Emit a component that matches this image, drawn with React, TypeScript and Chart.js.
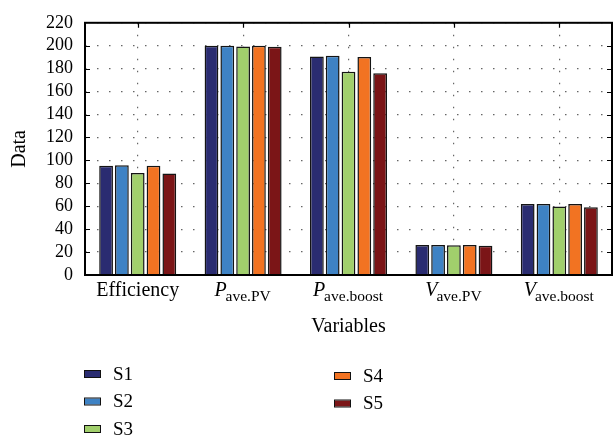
import React, { useEffect, useRef } from "react";
import { Chart, registerables } from "chart.js";

Chart.register(...registerables);

// Category labels: main symbol plus subscript text
const categoryMain = ["Efficiency", "P", "P", "V", "V"];
const categorySub = ["", "ave.PV", "ave.boost", "ave.PV", "ave.boost"];

const seriesNames = ["S1", "S2", "S3", "S4", "S5"];
const seriesColors = ["#2a2c71", "#3e82c4", "#a1cf6c", "#f27322", "#7b1517"];

const s1 = [95.2, 200, 190.7, 26.2, 62];
const s2 = [95.8, 200, 191.3, 26.2, 62];
const s3 = [89, 199.4, 177.4, 25.9, 59.7];
const s4 = [95.2, 200, 190.1, 26.2, 62];
const s5 = [88.5, 199, 176.1, 25.6, 59.2];

const yTicksMin = 0;
const yTicksMax = 220;
const yTicksStep = 20;

const FONT = "'Liberation Serif', 'DejaVu Serif', serif";

// Frame, inward tick marks, subscripted category labels and the legend
const decorPlugin = {
  id: "decor",
  afterDraw(chart: any) {
    const { ctx, chartArea } = chart;
    const { left, right, top, bottom } = chartArea;
    const xs = chart.scales.x;
    const ys = chart.scales.y;
    ctx.save();

    // tick marks pointing into the plot
    ctx.strokeStyle = "#000";
    ctx.lineWidth = 1.2;
    ctx.beginPath();
    for (let v = yTicksMin + yTicksStep; v < yTicksMax; v += yTicksStep) {
      const py = Math.round(ys.getPixelForValue(v)) + 0.5;
      ctx.moveTo(left, py);
      ctx.lineTo(left + 5, py);
      ctx.moveTo(right, py);
      ctx.lineTo(right - 5, py);
    }
    for (let i = 0; i < categoryMain.length; i++) {
      const px = Math.round(xs.getPixelForValue(i)) + 0.5;
      ctx.moveTo(px, top);
      ctx.lineTo(px, top + 5);
    }
    ctx.stroke();

    // box around the plot
    ctx.lineWidth = 2;
    ctx.strokeRect(left, top, right - left, bottom - top);

    // category labels with subscripts
    ctx.fillStyle = "#000";
    ctx.textBaseline = "alphabetic";
    ctx.textAlign = "left";
    for (let i = 0; i < categoryMain.length; i++) {
      const cx = xs.getPixelForValue(i);
      const hasSub = categorySub[i] !== "";
      const mainFont = (hasSub ? "italic " : "") + "20px " + FONT;
      const subFont = "15.5px " + FONT;
      ctx.font = mainFont;
      const mw = ctx.measureText(categoryMain[i]).width;
      ctx.font = subFont;
      const sw = hasSub ? ctx.measureText(categorySub[i]).width : 0;
      const total = mw + sw;
      const x0 = cx - total / 2;
      ctx.font = mainFont;
      ctx.fillText(categoryMain[i], x0, bottom + 21);
      if (hasSub) {
        ctx.font = subFont;
        ctx.fillText(categorySub[i], x0 + mw - 1, bottom + 26);
      }
    }

    // legend in two columns
    const ds = chart.data.datasets;
    const cols = [
      { x: 84, y0: 374 },
      { x: 334, y0: 376 },
    ];
    const rowGap = 27.5;
    ctx.font = "19px " + FONT;
    ctx.textBaseline = "middle";
    for (let i = 0; i < ds.length; i++) {
      const col = i < 3 ? cols[0] : cols[1];
      const row = i < 3 ? i : i - 3;
      const y = col.y0 + row * rowGap;
      ctx.fillStyle = ds[i].backgroundColor;
      ctx.fillRect(col.x, y - 3, 17, 6);
      ctx.lineWidth = 1;
      ctx.strokeStyle = "#111";
      ctx.strokeRect(col.x + 0.5, y - 3.5, 16, 7);
      ctx.fillStyle = "#000";
      ctx.fillText(ds[i].label, col.x + 29, y + 1);
    }
    ctx.restore();
  },
};

export default function App() {
  const ref = useRef<HTMLCanvasElement>(null);

  useEffect(() => {
    if (!ref.current) return;
    const series = [s1, s2, s3, s4, s5];
    const chart = new Chart(ref.current, {
      type: "bar",
      data: {
        labels: categoryMain.map((m, i) => m + categorySub[i]),
        datasets: series.map((d, i) => ({
          label: seriesNames[i],
          data: d,
          backgroundColor: seriesColors[i],
          borderColor: "#141414",
          borderWidth: 1.5,
          categoryPercentage: 0.75,
          barPercentage: 0.87,
        })),
      },
      options: {
        animation: false,
        responsive: false,
        maintainAspectRatio: false,
        layout: { padding: { top: 16, right: 3, left: 0, bottom: 102 } },
        plugins: {
          legend: { display: false },
          tooltip: { enabled: false },
        },
        scales: {
          x: {
            grid: {
              offset: false,
              drawTicks: false,
              color: "#666",
              lineWidth: 1.2,
            },
            border: { display: false, dash: [1.5, 10.5] },
            ticks: { display: false },
            title: {
              display: true,
              text: "Variables",
              color: "#000",
              font: { family: FONT, size: 20, lineHeight: 1 },
              padding: { top: 0, bottom: 3 },
            },
            afterFit: (s: any) => {
              s.height = 65;
            },
          } as any,
          y: {
            min: yTicksMin,
            max: yTicksMax,
            grid: { drawTicks: false, color: "#666", lineWidth: 1.2 },
            border: { display: false, dash: [1.5, 10.5] },
            ticks: {
              stepSize: yTicksStep,
              autoSkip: false,
              padding: 12,
              color: "#000",
              font: { family: FONT, size: 18 },
            },
            title: {
              display: true,
              text: "Data",
              color: "#000",
              font: { family: FONT, size: 20, lineHeight: 1 },
              padding: { top: 10, bottom: 0 },
            },
            afterFit: (s: any) => {
              s.width = 85;
            },
          } as any,
        },
      },
      plugins: [decorPlugin],
    });
    return () => chart.destroy();
  }, []);

  return (
    <div style={{ position: "fixed", left: 0, top: 0, width: 615, height: 442, background: "#fff" }}>
      <canvas ref={ref} width={615} height={442} style={{ width: 615, height: 442, display: "block" }} />
    </div>
  );
}
